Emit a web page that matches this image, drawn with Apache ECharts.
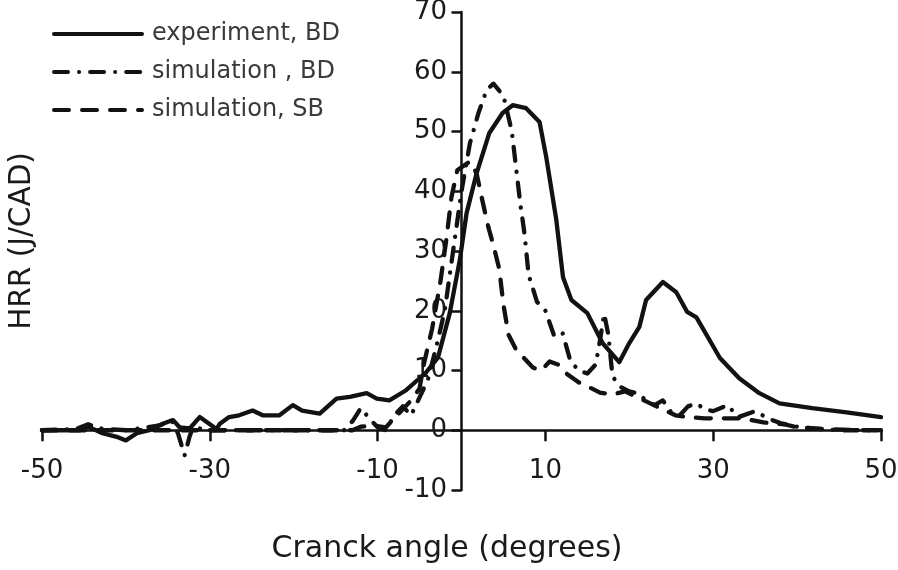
<!DOCTYPE html>
<html>
<head>
<meta charset="utf-8">
<script src="https://cdn.jsdelivr.net/npm/echarts@6/dist/echarts.min.js"></script>
<style>
html,body{margin:0;padding:0;background:#fff;}
#chart{width:898px;height:570px;}
</style>
</head>
<body>
<div id="chart"></div>
<script>
// values: [crank angle, HRR]
var experimentBD = [
	[-50,0],[-45.5,0],[-44.5,0.6],[-42.8,-0.5],[-41.1,-1.1],[-40,-1.7],[-38.7,-0.5],[-37.2,0],
	[-35.6,1.1],[-34.4,1.7],[-33.6,0.5],[-32.4,0.3],[-31.2,2.2],[-30.2,1.2],[-29.2,0.2],[-28.8,1.1],
	[-27.7,2.2],[-26.5,2.5],[-24.9,3.3],[-23.7,2.5],[-21.7,2.5],[-20.1,4.2],[-19,3.3],[-16.9,2.8],
	[-14.9,5.3],[-13.3,5.6],[-11.3,6.2],[-10.1,5.3],[-8.6,5],[-6.6,6.7],[-5,8.7],[-4.2,9.7],
	[-2.8,12.2],[-1.4,19.6],[-0.2,28.5],[0.6,36.3],[1.8,43],[3.3,49.7],[4.9,53.1],[6.1,54.4],
	[7.7,53.9],[9.3,51.6],[10.1,45.7],[11.3,35.2],[12.1,25.6],[13.1,21.8],[15,19.6],[16.8,14.6],
	[18.8,11.4],[20,14.6],[21.2,17.3],[22,21.8],[24,24.8],[25.6,23.1],[26.9,19.8],[28,18.9],
	[30.8,12.1],[33.1,8.7],[35.5,6.2],[37.9,4.5],[41.8,3.7],[45.9,3],[50,2.2]
];
var simulationBD = [
	[-50,0],[-46,0.2],[-44.5,1],[-43,0.3],[-40,0],[-38,0.4],[-36,0.8],[-34.5,1.5],[-33.8,-0.5],
	[-33,-4.2],[-32.4,-1],[-32,0.5],[-30,0],[-14,0],[-13,1.5],[-12,3.7],[-11,2],[-10,0.5],
	[-9,0],[-8,2.5],[-7,4],[-6,2.5],[-5,5.5],[-4,8.5],[-3,14],[-2,20],[-1,30],[0,40],[1,48],
	[2,53],[3,57],[3.8,58],[5,56],[6,50],[6.5,44],[7,38],[7.5,33],[8,26],[9,21.5],[10,20],
	[11,16],[12,16.5],[13,11.5],[14,10],[15,9.5],[16,11],[16.5,15],[17,19.5],[17.5,16],[18,9],
	[19,7.2],[20,6.5],[21,6.2],[22,5],[23,4.2],[24,5],[25,3],[26,2.5],[27,4],[28,4.5],[29,3.5],
	[30,3.2],[31.7,4.2],[33,2.2],[35,3.2],[36.5,2],[38,1.2],[40,0.6],[42,0.3],[45,0],[50,0]
];
var simulationSB = [
	[-50,0],[-35,0],[-31,0],[-20,0],[-13,0],[-12,0.6],[-10.5,0.8],[-9,0.5],[-8,2],[-7,3.5],
	[-6,5],[-5,7],[-4.5,11],[-3.5,17],[-2.5,25],[-1.8,32],[-1.2,39],[-0.5,43.5],[1,45],[1.8,43],
	[2.4,39],[3.2,34],[3.8,31],[4.5,27],[5,21],[5.6,16],[6.5,13.5],[7.5,12],[8.5,10.5],[9.5,10],
	[10.5,11.5],[11.5,11],[12.5,9.5],[14,8],[15.5,7],[16.5,6.3],[18,6],[19.5,6.5],[21,5.5],
	[22.5,4.5],[24,3.5],[25.5,2.5],[27,2.2],[29,2],[31.5,2],[33.5,2],[36,1.3],[38.5,1],[40,0.5],
	[43,0.2],[45.5,0.1],[47.5,0],[50,0]
];
var seriesNames = ['experiment, BD','simulation , BD','simulation, SB'];
var xName = 'Cranck angle (degrees)';
var yName = 'HRR (J/CAD)';

var lineColor = '#121212';
var fontFam = '"DejaVu Sans", sans-serif';

function buildOption(){
	var mkSeries = function(name,data,dash){
		return {
			name:name,
			type:'line',
			data:data,
			symbol:'none',
			lineStyle:{
				color:lineColor,
				width:4.3,
				type:dash,
				cap:'round',
				join:'round'
			},
			itemStyle:{color:lineColor}
		};
	};
	return {
		animation:false,
		backgroundColor:'#fff',
		textStyle:{fontFamily:fontFam},
		grid:{left:42,right:17,top:12,bottom:80,containLabel:false,outerBoundsMode:'none'},
		legend:{
			orient:'vertical',
			left:47,
			top:17,
			itemWidth:88,
			itemHeight:14,
			itemGap:14,
			data:seriesNames,
			itemStyle:{color:'rgba(0,0,0,0)',borderColor:'rgba(0,0,0,0)',borderWidth:0},
			lineStyle:{width:4},
			textStyle:{fontSize:24,color:'#3a3a3a',fontFamily:fontFam,padding:[0,0,0,5]}
		},
		xAxis:{
			type:'value',
			min:-50,
			max:50,
			interval:20,
			axisLine:{onZero:true,lineStyle:{color:'#111',width:2.5}},
			axisTick:{show:true,length:11,lineStyle:{color:'#111',width:2.5}},
			splitLine:{show:false},
			axisLabel:{fontSize:26,color:'#1a1a1a',margin:-32,fontFamily:fontFam}
		},
		yAxis:{
			type:'value',
			min:-10,
			max:70,
			interval:10,
			axisLine:{show:true,onZero:true,lineStyle:{color:'#111',width:2.5}},
			axisTick:{show:true,length:10,lineStyle:{color:'#111',width:2.5}},
			splitLine:{show:false},
			axisLabel:{fontSize:26,color:'#1a1a1a',margin:-405,fontFamily:fontFam}
		},
		graphic:[
			{
				type:'text',
				x:447,
				y:549,
				style:{text:xName,fontSize:30,fill:'#1a1a1a',fontFamily:fontFam,align:'center',verticalAlign:'middle'}
			},
			{
				type:'text',
				x:22,
				y:241,
				rotation:Math.PI/2,
				style:{text:yName,fontSize:29.5,fill:'#1a1a1a',fontFamily:fontFam,align:'center',verticalAlign:'middle'}
			}
		],
		series:[
			mkSeries(seriesNames[0],experimentBD,'solid'),
			mkSeries(seriesNames[1],simulationBD,[14,11,0.1,11]),
			mkSeries(seriesNames[2],simulationSB,[15,13])
		]
	};
}

var chart = echarts.init(document.getElementById('chart'));
chart.setOption(buildOption());
</script>
</body>
</html>
